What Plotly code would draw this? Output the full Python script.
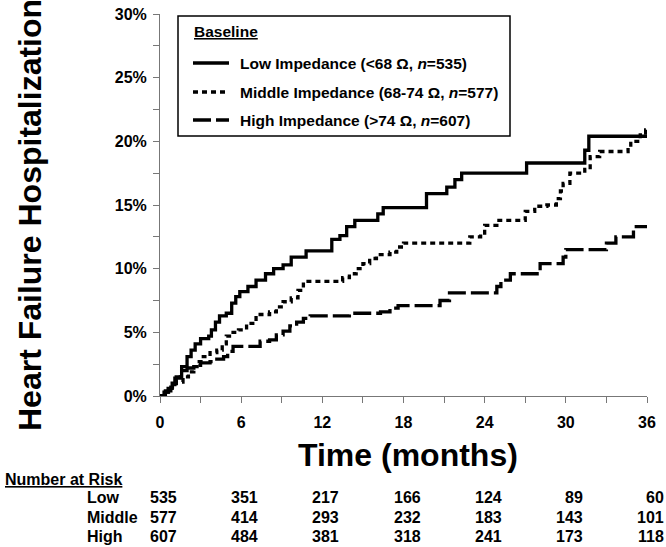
import plotly.graph_objects as go

# ---------------- data ----------------
series_names = ["Low Impedance (<68 Ω, <i>n</i>=535)",
                "Middle Impedance (68-74 Ω, <i>n</i>=577)",
                "High Impedance (>74 Ω, <i>n</i>=607)"]

low_t = [0, 0.3, 0.6, 0.9, 1.2, 1.6, 2.0, 2.3, 2.6, 3.0, 3.6, 3.8, 4.1, 4.4, 4.9, 5.3, 5.6, 5.9,
         6.5, 7.1, 7.8, 8.4, 9.1, 9.7, 10.8, 12.7, 13.3, 13.8, 14.4, 16.1, 16.5, 19.7, 21.2,
         21.8, 22.3, 27.1, 31.4, 31.7, 36]
low_v = [0, 0.3, 0.6, 1.0, 1.5, 2.3, 3.1, 3.6, 4.1, 4.5, 4.7, 5.2, 5.8, 6.3, 6.5, 7.3, 7.8, 8.2,
         8.6, 9.1, 9.6, 10.0, 10.3, 10.9, 11.4, 12.3, 12.6, 13.3, 13.8, 14.3, 14.8, 15.9, 16.4,
         17.0, 17.5, 18.3, 19.3, 20.4, 20.4]

mid_t = [0, 0.4, 0.8, 1.2, 1.7, 2.1, 2.5, 2.9, 3.2, 3.7, 4.2, 4.6, 4.9, 5.4, 5.8, 6.4, 7.1, 8.1,
         8.6, 9.1, 9.7, 10.2, 10.6, 13.5, 14.0, 14.5, 15.0, 15.5, 16.0, 17.0, 17.5, 18.0, 22.9,
         23.7, 24.0, 24.9, 27.0, 27.7, 28.6, 29.3, 29.6, 29.8, 30.3, 31.4, 31.8, 32.5, 34.6,
         34.8, 35.5, 35.9, 36]
mid_v = [0, 0.3, 0.7, 1.1, 1.5, 1.9, 2.3, 2.7, 3.1, 3.4, 3.6, 4.1, 4.7, 5.0, 5.2, 5.7, 6.4, 6.6,
         7.0, 7.4, 7.7, 8.3, 9.0, 9.3, 9.6, 10.0, 10.4, 10.8, 11.1, 11.3, 11.7, 12.0, 12.5,
         12.8, 13.4, 13.8, 14.5, 14.9, 15.0, 15.5, 16.1, 16.7, 17.5, 17.8, 18.8, 19.2, 19.5,
         20.0, 20.5, 20.9, 20.9]

high_t = [0, 0.4, 0.8, 1.1, 1.5, 2.0, 2.5, 3.0, 3.7, 4.2, 4.7, 5.0, 5.4, 7.4, 8.1, 8.6, 9.1, 9.6,
          10.1, 10.6, 11.1, 14.0, 16.3, 17.0, 17.6, 20.7, 21.4, 24.9, 25.2, 25.9, 28.1, 29.8,
          30.0, 33.0, 33.7, 35.0, 36]
high_v = [0, 0.4, 0.9, 1.4, 2.0, 2.2, 2.4, 2.6, 2.7, 2.9, 3.1, 3.5, 3.9, 4.3, 4.4, 4.8, 5.1, 5.5,
          5.8, 6.1, 6.3, 6.5, 6.6, 6.9, 7.1, 7.5, 8.1, 8.6, 9.1, 9.6, 10.4, 10.9,
          11.5, 12.0, 12.5, 13.3, 13.3]

risk_months = [0, 6, 12, 18, 24, 30, 36]
risk_groups = ["Low", "Middle", "High"]
risk_low = [535, 351, 217, 166, 124, 89, 60]
risk_mid = [577, 414, 293, 232, 183, 143, 101]
risk_high = [607, 484, 381, 318, 241, 173, 118]

# ---------------- layout helpers (pixel -> paper) ----------------
W, H = 666, 547
L, R, T, B = 160, 19, 14, 151
PW, PH = W - L - R, H - T - B


def px(x):
    return (x - L) / PW


def py(y):
    return (H - B - y) / PH


FONT = "Liberation Sans, Arial, Helvetica, sans-serif"
dashes = ["solid", "5px,4px", "18px,5px"]

fig = go.Figure()
for t, v, name, d in zip([low_t, mid_t, high_t], [low_v, mid_v, high_v], series_names, dashes):
    fig.add_trace(go.Scatter(x=t, y=v, mode="lines", name=name, line_shape="hv",
                             line=dict(color="black", width=3.3, dash=d), showlegend=False,
                             hoverinfo="skip"))

shapes = []
annotations = []

# legend box
shapes.append(dict(type="rect", xref="paper", yref="paper", x0=px(178), x1=px(510),
                   y0=py(136), y1=py(16), line=dict(color="black", width=1.5),
                   fillcolor="white", layer="below"))
annotations.append(dict(xref="paper", yref="paper", x=px(192), y=py(32), xanchor="left",
                        yanchor="middle", showarrow=False, text="<b><u>Baseline</u></b>",
                        font=dict(family=FONT, size=15.5, color="black")))
row_y = [63, 92, 120]
for name, d, yy in zip(series_names, dashes, row_y):
    shapes.append(dict(type="line", xref="paper", yref="paper", x0=px(193), x1=px(229),
                       y0=py(yy), y1=py(yy), line=dict(color="black", width=3.3, dash=d)))
    annotations.append(dict(xref="paper", yref="paper", x=px(238), y=py(yy), xanchor="left",
                            yanchor="middle", showarrow=False, text="<b>" + name + "</b>",
                            font=dict(family=FONT, size=15.5, color="black")))

# axis titles
annotations.append(dict(xref="paper", yref="paper", x=px(30), y=py(215), xanchor="center",
                        yanchor="middle", textangle=-90, showarrow=False,
                        text="<b>Heart Failure Hospitalization</b>",
                        font=dict(family=FONT, size=32, color="black")))
annotations.append(dict(xref="paper", yref="paper", x=px(408), y=py(455), xanchor="center",
                        yanchor="middle", showarrow=False, text="<b>Time (months)</b>",
                        font=dict(family=FONT, size=32, color="black")))

# number at risk table
annotations.append(dict(xref="paper", yref="paper", x=px(3), y=py(479), xanchor="left",
                        yanchor="middle", showarrow=False, text="<b><u>Number at Risk</u></b>",
                        font=dict(family=FONT, size=16, color="black")))
for grp, vals, yy in zip(risk_groups, [risk_low, risk_mid, risk_high], [498, 517, 536]):
    annotations.append(dict(xref="paper", yref="paper", x=px(85), y=py(yy), xanchor="left",
                            yanchor="middle", showarrow=False, text="<b>" + grp + "</b>",
                            font=dict(family=FONT, size=16, color="black")))
    for m, v in zip(risk_months, vals):
        annotations.append(dict(xref="x", yref="paper", x=m, y=py(yy), xanchor="right",
                                xshift=19, yanchor="middle", showarrow=False,
                                text="<b>%d</b>" % v,
                                font=dict(family=FONT, size=16, color="black")))

fig.update_layout(
    width=W, height=H,
    margin=dict(l=L, r=R, t=T, b=B, pad=0, autoexpand=False),
    paper_bgcolor="white", plot_bgcolor="white",
    shapes=shapes, annotations=annotations,
    font=dict(family=FONT, color="black"),
    xaxis=dict(range=[0, 36], tickmode="linear", tick0=0, dtick=6, showgrid=False,
               automargin=False, fixedrange=True,
               zeroline=False, showline=True, linecolor="#777", linewidth=1,
               ticks="outside", ticklen=6, tickcolor="#777", ticklabelstandoff=6,
               tickfont=dict(family=FONT, size=16, color="black", weight="bold"),
               minor=dict(dtick=3, ticks="outside", ticklen=6, tickcolor="#777")),
    yaxis=dict(range=[0, 30], tickmode="linear", tick0=0, dtick=5, showgrid=False,
               automargin=False, fixedrange=True,
               zeroline=False, showline=True, linecolor="#777", linewidth=1,
               ticks="outside", ticklen=6, tickcolor="#777", ticksuffix="%",
               ticklabelstandoff=3,
               tickfont=dict(family=FONT, size=16, color="black", weight="bold"),
               minor=dict(dtick=2.5, ticks="outside", ticklen=6, tickcolor="#777")),
)

fig.write_html("out.html", config={"displayModeBar": False},
               post_script="document.body.style.margin='0px';document.body.style.padding='0px';"
                           "document.body.style.overflow='hidden';")
